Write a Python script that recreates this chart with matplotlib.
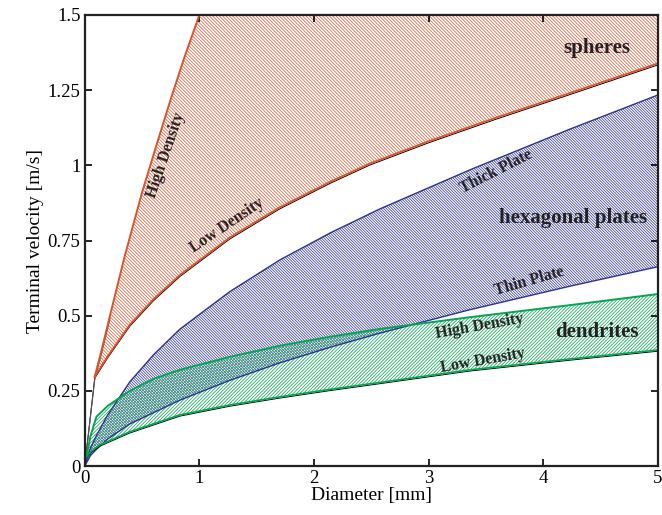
import numpy as np
import matplotlib
matplotlib.use("Agg")
import matplotlib.pyplot as plt

plt.rcParams['font.family'] = ['Liberation Serif', 'DejaVu Serif']
plt.rcParams['hatch.linewidth'] = 0.55

# Terminal velocity bounds (D in mm, v in m/s)
sph_hi_d = [0.087, 0.15, 0.22, 0.35, 0.5, 0.62, 0.75, 0.87, 1.0]
sph_hi_v = [0.297, 0.39, 0.5, 0.7, 0.91, 1.06, 1.22, 1.36, 1.5]
sph_lo_d = [0.087, 0.2, 0.393, 0.6, 0.829, 1.265, 1.7, 2.14, 2.487, 3.0, 3.6, 4.23, 5.0]
sph_lo_v = [0.297, 0.365, 0.47, 0.555, 0.635, 0.76, 0.86, 0.945, 1.006, 1.08, 1.16, 1.24, 1.339]

thick_d = [0, 0.05, 0.1, 0.2, 0.393, 0.6, 0.829, 1.265, 1.7, 2.14, 2.574, 3.36, 4.23, 5.0]
thick_v = [0, 0.06, 0.1, 0.17, 0.28, 0.37, 0.455, 0.58, 0.685, 0.775, 0.855, 0.985, 1.12, 1.234]
thin_d = [0, 0.05, 0.1, 0.2, 0.393, 0.829, 1.265, 1.7, 2.14, 2.574, 3.36, 4.23, 5.0]
thin_v = [0, 0.035, 0.055, 0.09, 0.14, 0.219, 0.285, 0.343, 0.395, 0.442, 0.52, 0.598, 0.663]

den_hi_d = [0.015, 0.05, 0.102, 0.2, 0.393, 0.6, 0.829, 1.265, 1.7, 2.14, 2.574, 3.36, 4.23, 5.0]
den_hi_v = [0.031, 0.1, 0.164, 0.2, 0.25, 0.29, 0.32, 0.363, 0.4, 0.43, 0.456, 0.495, 0.535, 0.572]
den_lo_d = [0.015, 0.06, 0.131, 0.393, 0.829, 1.265, 1.7, 2.14, 2.574, 3.36, 4.23, 5.0]
den_lo_v = [0.031, 0.05, 0.07, 0.114, 0.17, 0.203, 0.23, 0.255, 0.278, 0.32, 0.356, 0.386]

xmax, ymax = 5, 1.5
red = '#d9542b'
blue = '#2e3192'
green = '#00a651'


def band(ax, d1, v1, d2, v2, color, hatch, extra=None):
    # polygon: lower curve forward, upper curve backwards
    xs = list(d1) + ([extra[0]] if extra else []) + list(d2)[::-1]
    ys = list(v1) + ([extra[1]] if extra else []) + list(v2)[::-1]
    ax.fill(xs, ys, facecolor='none', edgecolor=color, hatch=hatch, linewidth=0)


fig = plt.figure(figsize=(6.62, 5.15), dpi=100)
ax = fig.add_axes([0.128, 0.095, 0.866, 0.876])

# black base lines (mostly hidden under the coloured edges)
ax.plot([0] + sph_lo_d, [0] + [v - 0.005 for v in sph_lo_v], color='k', lw=0.7)
ax.plot([0] + sph_hi_d[:3], [0] + [v - 0.01 for v in sph_hi_v[:3]], color='#555555', lw=0.8)

# spheres
band(ax, sph_lo_d, sph_lo_v, sph_hi_d, sph_hi_v, '#dd6442', '\\' * 10, extra=(xmax, ymax))
ax.plot(sph_lo_d, sph_lo_v, color=red, lw=1.3)
ax.plot(sph_hi_d + [xmax], sph_hi_v + [ymax], color=red, lw=1.4, clip_on=False)
ax.plot([xmax, xmax], [sph_lo_v[-1], ymax], color=red, lw=1.4, clip_on=False)

# hexagonal plates
band(ax, thin_d, thin_v, thick_d, thick_v, '#3a3f98', '\\' * 12)
ax.plot(thick_d, thick_v, color=blue, lw=1.0)
ax.plot(thin_d, thin_v, color=blue, lw=1.0)
ax.plot([xmax, xmax], [thin_v[-1], thick_v[-1]], color=blue, lw=1.2)

# dendrites
band(ax, den_lo_d, den_lo_v, den_hi_d, den_hi_v, '#1aaa5a', '/' * 10)
ax.plot(den_lo_d, [v - 0.004 for v in den_lo_v], color='k', lw=0.7)
ax.plot(den_hi_d, den_hi_v, color=green, lw=1.4)
ax.plot(den_lo_d, den_lo_v, color=green, lw=1.2)
ax.plot([xmax, xmax], [den_lo_v[-1], den_hi_v[-1]], color=green, lw=1.4)

# labels inside the plot
tk = dict(fontweight='bold', color='#222222', ha='center', va='center')
ax.text(4.465, 1.389, 'spheres', fontsize=15, **tk)
ax.text(4.255, 0.824, 'hexagonal plates', fontsize=15, **tk)
ax.text(4.47, 0.447, 'dendrites', fontsize=15, **tk)
ax.text(0.707, 1.034, 'High Density', fontsize=11.5, rotation=71, **tk)
ax.text(1.245, 0.80, 'Low Density', fontsize=11.5, rotation=34, **tk)
ax.text(3.586, 0.979, 'Thick Plate', fontsize=11.5, rotation=27, **tk)
ax.text(3.877, 0.616, 'Thin Plate', fontsize=11.5, rotation=16, **tk)
ax.text(3.44, 0.463, 'High Density', fontsize=11.5, rotation=10, **tk)
ax.text(3.47, 0.352, 'Low Density', fontsize=11.5, rotation=10, **tk)

ax.set_xlim(0, xmax)
ax.set_ylim(0, ymax)
ax.set_xticks([0, 1, 2, 3, 4, 5])
ax.set_yticks([0, 0.25, 0.5, 0.75, 1, 1.25, 1.5])
ax.set_yticklabels(['0', '0.25', '0.5', '0.75', '1', '1.25', '1.5'])
ax.tick_params(direction='in', length=5, width=1.2, labelsize=13.5,
               top=True, right=True, pad=3)
for s in ax.spines.values():
    s.set_linewidth(1.6)
    s.set_color('#222222')
    s.set_zorder(5)
ax.set_xlabel('Diameter [mm]', fontsize=14, labelpad=0)
ax.set_ylabel('Terminal velocity [m/s]', fontsize=14, labelpad=3)

fig.savefig('out.png', dpi=100)
